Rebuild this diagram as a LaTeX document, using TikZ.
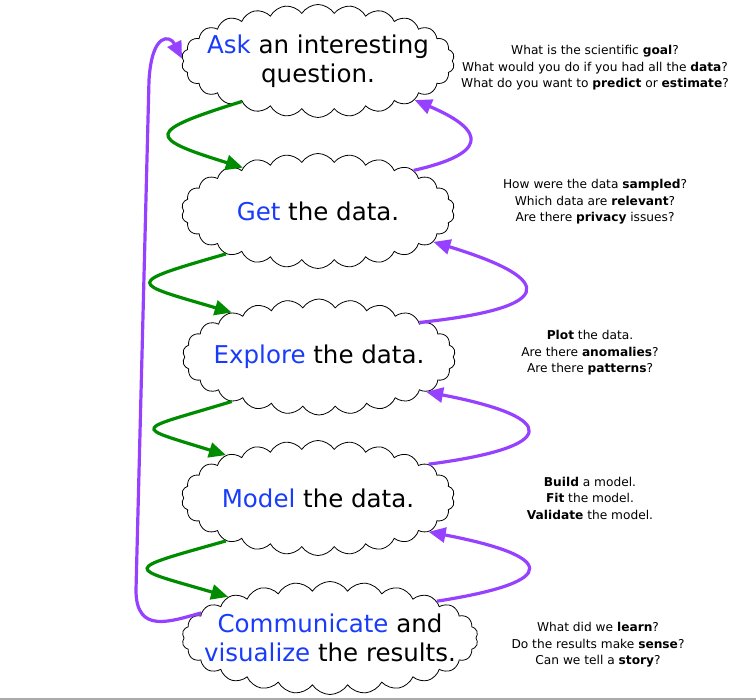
\documentclass[tikz,border=0pt]{standalone}
\usepackage{fontspec}
\setmainfont{DejaVu Sans}
\usetikzlibrary{shapes.symbols,arrows.meta}
\definecolor{askblue}{RGB}{25,60,250}
\definecolor{fwdgreen}{RGB}{0,140,0}
\definecolor{backpurple}{RGB}{150,65,255}
\begin{document}
\begin{tikzpicture}[x=1pt,y=-1pt,
  cloudbox/.style={cloud, cloud puffs=26, cloud puff arc=115, cloud ignores aspect,
    draw, line width=0.8pt, fill=white, minimum width=273pt, minimum height=113pt,
    inner sep=0pt},
  cloudtext/.style={align=center, inner sep=0pt, font=\fontsize{24.5}{29}\selectfont},
  fwd/.style={draw=fwdgreen, line width=3.2pt, -{Triangle[length=17pt,width=15pt]}},
  back/.style={draw=backpurple, line width=3.2pt, -{Triangle[length=17pt,width=15pt]}},
  note/.style={align=center, inner sep=0pt, font=\fontsize{12.2}{16.5}\selectfont}]
\useasboundingbox (0,0) rectangle (756,700);
\draw[color={rgb,255:red,170;green,170;blue,170}, line width=2pt] (0,699) -- (756,699);

\node[cloudbox] (c1) at (318,61) {};
\node[cloudbox, minimum height=115pt] (c2) at (318,211) {};
\node[cloudbox, minimum height=116pt] (c3) at (319,357) {};
\node[cloudbox, minimum height=115pt] (c4) at (318,498) {};
\node[cloudbox, minimum width=296pt] (c5) at (330,638) {};

\node[cloudtext] (t1) at (c1) {\textcolor{askblue}{Ask} an interesting\\question.};
\node[cloudtext] (t2) at (c2) {\textcolor{askblue}{Get} the data.};
\node[cloudtext] (t3) at (c3) {\textcolor{askblue}{Explore} the data.};
\node[cloudtext] (t4) at (c4) {\textcolor{askblue}{Model} the data.};
\node[cloudtext] (t5) at (c5) {\textcolor{askblue}{Communicate} and\\\textcolor{askblue}{visualize} the results.};

\node[note] (n1) at (595,68) {What is the scientific \textbf{goal}?\\What would you do if you had all the \textbf{data}?\\What do you want to \textbf{predict} or \textbf{estimate}?};
\node[note] (n2) at (595,202) {How were the data \textbf{sampled}?\\Which data are \textbf{relevant}?\\Are there \textbf{privacy} issues?};
\node[note] (n3) at (590,353) {\textbf{Plot} the data.\\Are there \textbf{anomalies}?\\Are there \textbf{patterns}?};
\node[note] (n4) at (590,498) {\textbf{Build} a model.\\\textbf{Fit} the model.\\\textbf{Validate} the model.};
\node[note] (n5) at (598,645) {What did we \textbf{learn}?\\Do the results make \textbf{sense}?\\Can we tell a \textbf{story}?};

\draw[fwd] (c1.208) .. controls +(-96,30) and +(-97,-30) .. (c2.150);
\draw[fwd] (c2.205) .. controls +(-104,30) and +(-102,-30) .. (c3.153);
\draw[fwd] (c3.207) .. controls +(-98,30) and +(-96,-30) .. (c4.155);
\draw[fwd] (c4.205) .. controls +(-106,30) and +(-102,-30) .. (c5.158);

\draw[back] (c2.23) .. controls +(71,-16) and +(75,32) .. (c1.338);
\draw[back] (c3.19) .. controls +(133,-14) and +(128,39) .. (c2.345);
\draw[back] (c4.17) .. controls +(131,-17) and +(135,26) .. (c3.342);
\draw[back] (c5.19) .. controls +(128,-20) and +(125,24) .. (c4.343);

\draw[back] (c5.169) .. controls +(-30,8) and (136,635) .. (136,590)
  -- (149,80) .. controls (152,32) and (170,35) .. (c1.179);
\end{tikzpicture}
\end{document}
